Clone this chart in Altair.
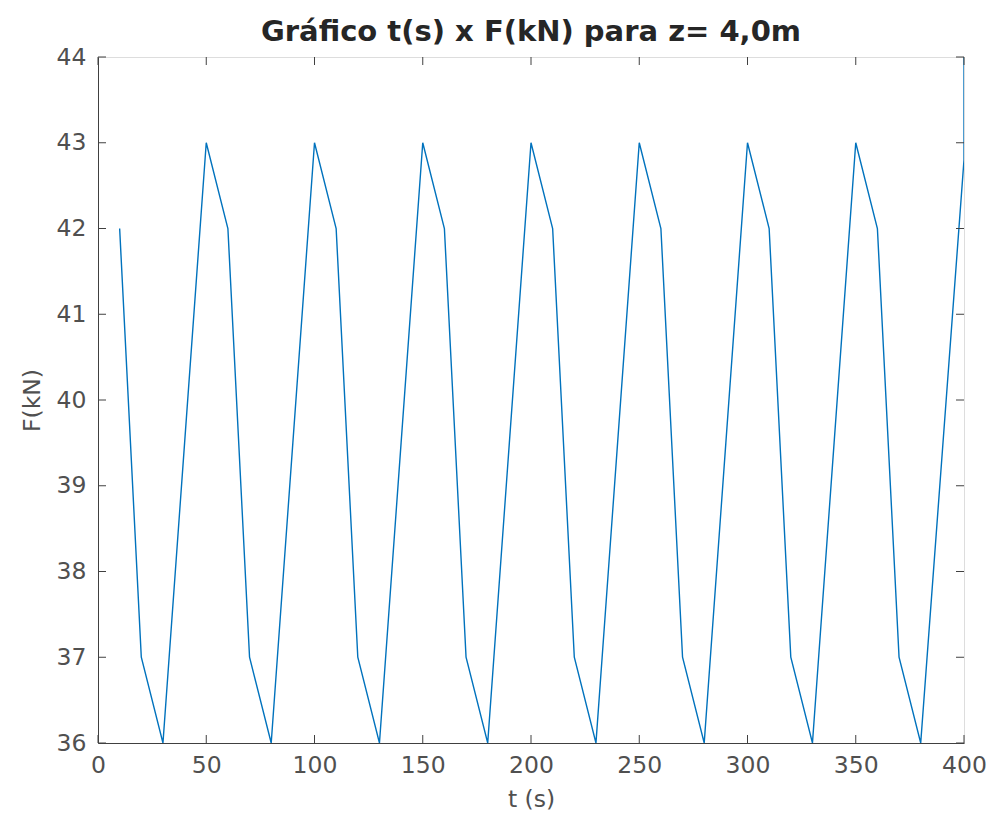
import altair as alt
import pandas as pd

# Data
t = [10, 20, 30, 40, 50, 60, 70, 80, 90, 100, 110, 120, 130, 140, 150, 160, 170, 180,
     190, 200, 210, 220, 230, 240, 250, 260, 270, 280, 290, 300, 310, 320, 330, 340,
     350, 360, 370, 380, 390, 400, 400]
F = [42, 37, 36, 39.5, 43, 42, 37, 36, 39.5, 43, 42, 37, 36, 39.5, 43, 42, 37, 36,
     39.5, 43, 42, 37, 36, 39.5, 43, 42, 37, 36, 39.5, 43, 42, 37, 36, 39.5,
     43, 42, 37, 36, 39.4, 42.8, 44]

x_ticks = [0, 50, 100, 150, 200, 250, 300, 350, 400]
y_ticks = [36, 37, 38, 39, 40, 41, 42, 43, 44]

W, H = 866, 686
X0, X1, Y0, Y1 = 0, 400, 36, 44
tick_px = 8
dx = tick_px * (X1 - X0) / W
dy = tick_px * (Y1 - Y0) / H

df = pd.DataFrame({"t": t, "F": F, "order": list(range(len(t)))})

axis_col = "#404040"
label_col = "#505050"
font = "DejaVu Sans"
fs = 23.5

xs = alt.Scale(domain=[X0, X1], nice=False, zero=False)
ys = alt.Scale(domain=[Y0, Y1], nice=False, zero=False)

line = alt.Chart(df).mark_line(color="#0072BD", strokeWidth=1.4, clip=True).encode(
    x=alt.X("t:Q", scale=xs, title="t (s)",
            axis=alt.Axis(values=x_ticks, ticks=False, grid=False, labelPadding=10,
                          format="d",
                          labelFontSize=fs, titleFontSize=fs, titlePadding=11,
                          labelColor=label_col, titleColor=label_col,
                          titleFontWeight="normal", domainColor=axis_col,
                          labelFont=font, titleFont=font, labelFlush=False)),
    y=alt.Y("F:Q", scale=ys, title="F(kN)",
            axis=alt.Axis(values=y_ticks, ticks=False, grid=False, labelPadding=12,
                          format="d",
                          labelFontSize=fs, titleFontSize=fs, titlePadding=12,
                          labelColor=label_col, titleColor=label_col,
                          titleFontWeight="normal", domainColor=axis_col,
                          labelFont=font, titleFont=font, labelFlush=False)),
    order="order:O",
)

xt = pd.DataFrame({"v": x_ticks})
yt = pd.DataFrame({"v": y_ticks})

bot = alt.Chart(xt).mark_rule(color=axis_col, strokeWidth=1).encode(
    x=alt.X("v:Q", scale=xs), y=alt.YDatum(Y0), y2=alt.Y2Datum(Y0 + dy))
top = alt.Chart(xt).mark_rule(color=axis_col, strokeWidth=1).encode(
    x=alt.X("v:Q", scale=xs), y=alt.YDatum(Y1), y2=alt.Y2Datum(Y1 - dy))
left = alt.Chart(yt).mark_rule(color=axis_col, strokeWidth=1).encode(
    y=alt.Y("v:Q", scale=ys), x=alt.XDatum(X0), x2=alt.X2Datum(X0 + dx))
right = alt.Chart(yt).mark_rule(color=axis_col, strokeWidth=1).encode(
    y=alt.Y("v:Q", scale=ys), x=alt.XDatum(X1), x2=alt.X2Datum(X1 - dx))

chart = alt.layer(line, bot, top, left, right).properties(
    width=W, height=H,
    title=alt.TitleParams("Gráfico t(s) x F(kN) para z= 4,0m", font=font, fontSize=29,
                          fontWeight="bold", color="#262626", offset=12, dy=14,
                          limit=0),
    autosize=alt.AutoSizeParams(type="none"),
    padding={"left": 90, "top": 49, "right": 24, "bottom": 76},
).configure_view(stroke=axis_col, strokeWidth=1).configure(background="white")

chart.save("out.html", embed_options={"renderer": "svg", "actions": False})
